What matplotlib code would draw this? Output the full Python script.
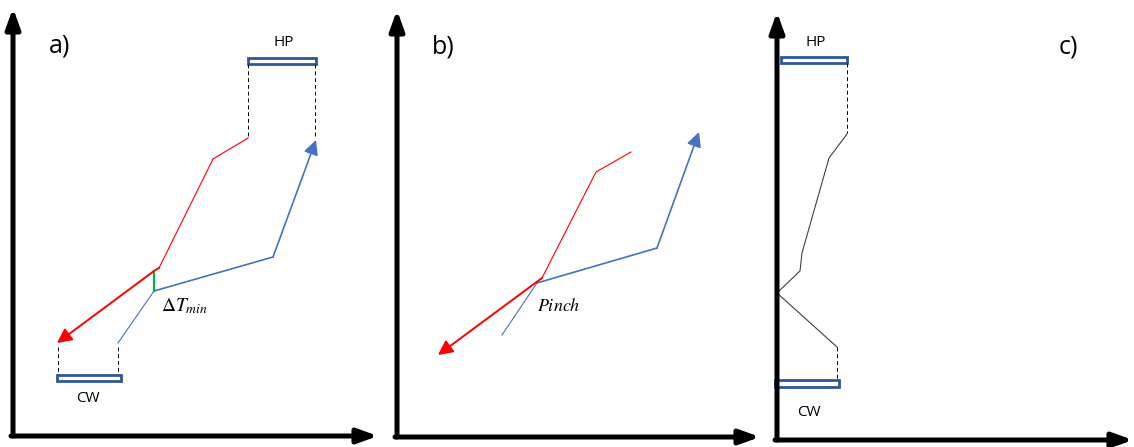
import matplotlib.pyplot as plt
from matplotlib.patches import Rectangle

plt.rcParams['mathtext.fontset'] = 'stix'
W, H = 1134, 447

# 坐标轴箭头 (起点, 终点)
axes_arrows = [((13, 436), (13, 8)), ((11, 436), (378, 436)),
               ((397, 437), (397, 10)), ((395, 437), (760, 437)),
               ((777, 440), (777, 12)), ((775, 440), (1133, 440))]

# a) 热/冷复合曲线
hot_a_x = [248, 213, 159, 154, 57]
hot_a_y = [138, 159, 268, 271, 343]
cold_a_x = [118, 154, 273, 316]
cold_a_y = [343, 291, 257, 140]
dtmin_x = [154, 154]
dtmin_y = [271, 291]

# b) pinch
hot_b_x = [631, 596, 542, 438]
hot_b_y = [152, 172, 278, 355]
cold_b_x = [502, 537, 657, 699]
cold_b_y = [335, 283, 248, 132]

# c) 总复合曲线
gcc_x = [847, 829, 802, 800, 777, 837]
gcc_y = [134, 158, 253, 271, 293, 347]

# 公用工程 (x0, y0, x1, y1)
utility_boxes = [(248, 58, 316, 64), (57, 375, 121, 381),
                 (781, 57, 847, 63), (775, 380, 839, 387)]
utility_names = ['HP', 'CW', 'HP', 'CW']
utility_label_xy = [(284, 43), (88, 398), (816, 42), (809, 412)]
dash_x = [248, 315, 58, 118, 847, 837]
dash_y0 = [64, 64, 347, 347, 63, 347]
dash_y1 = [138, 138, 373, 373, 133, 380]

panel_labels = ['a)', 'b)', 'c)']
panel_label_xy = [(60, 46), (443, 47), (1068, 47)]

red = '#FF0000'
blue = '#4472C4'
box_c = '#2F5597'

fig = plt.figure(figsize=[W / 100, H / 100], dpi=100)
ax = fig.add_axes([0, 0, 1, 1])
ax.set_xlim(0, W)
ax.set_ylim(H, 0)
ax.axis('off')

def arrow(p0, p1, color, lw, ms, style='-|>'):
    ax.annotate('', xy=p1, xytext=p0,
                arrowprops=dict(arrowstyle=style, color=color, lw=lw,
                                mutation_scale=ms, shrinkA=0, shrinkB=0))

for p0, p1 in axes_arrows:
    arrow(p0, p1, 'black', 3.6, 24, '-|>,head_length=0.5,head_width=0.18')

# a)
ax.plot(hot_a_x[:3], hot_a_y[:3], color=red, lw=0.8)
ax.plot(hot_a_x[2:4], hot_a_y[2:4], color=red, lw=1.4)
arrow((hot_a_x[3], hot_a_y[3]), (hot_a_x[4], hot_a_y[4]), red, 1.4, 22)
ax.plot(cold_a_x[:2], cold_a_y[:2], color=blue, lw=0.8)
ax.plot(cold_a_x[1:3], cold_a_y[1:3], color=blue, lw=1.2)
arrow((cold_a_x[2], cold_a_y[2]), (cold_a_x[3], cold_a_y[3]), blue, 1.2, 22)
ax.plot(dtmin_x, dtmin_y, color='#00B050', lw=1.6)
ax.text(161, 306, r'$\Delta T_{min}$', fontsize=14, ha='left', va='center')

# b)
ax.plot(hot_b_x[:3], hot_b_y[:3], color=red, lw=0.8)
arrow((hot_b_x[2], hot_b_y[2]), (hot_b_x[3], hot_b_y[3]), red, 1.4, 22)
ax.plot(cold_b_x[:2], cold_b_y[:2], color=blue, lw=0.8)
ax.plot(cold_b_x[1:3], cold_b_y[1:3], color=blue, lw=1.2)
arrow((cold_b_x[2], cold_b_y[2]), (cold_b_x[3], cold_b_y[3]), blue, 1.2, 22)
ax.text(537, 306, r'$Pinch$', fontsize=13, ha='left', va='center')

# c)
ax.plot(gcc_x, gcc_y, color='#404040', lw=0.8)

for (x0, y0, x1, y1) in utility_boxes:
    ax.add_patch(Rectangle((x0, y0), x1 - x0, y1 - y0, facecolor='white',
                           edgecolor=box_c, lw=2))
for name, (x, y) in zip(utility_names, utility_label_xy):
    ax.text(x, y, name, fontsize=11, ha='center', va='center', family='Open Sans')
for x, y0, y1 in zip(dash_x, dash_y0, dash_y1):
    ax.plot([x, x], [y0, y1], color='black', lw=0.7, linestyle=(0, (4, 3)))

for lab, (x, y) in zip(panel_labels, panel_label_xy):
    ax.text(x, y, lab, fontsize=18, ha='center', va='center', family='Open Sans')

fig.savefig('out.png', dpi=100)
